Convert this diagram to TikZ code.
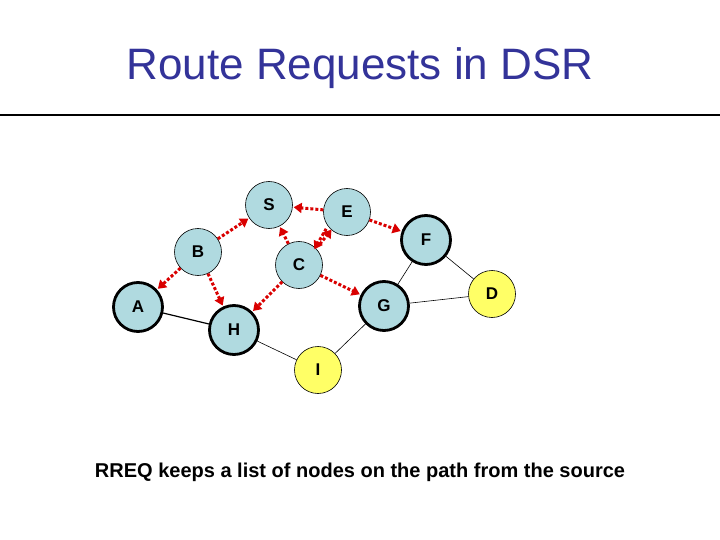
\documentclass[tikz,border=0pt]{standalone}
\usepackage{fontspec}
\setmainfont{Liberation Sans}
\usetikzlibrary{arrows.meta}
\definecolor{nodeblue}{RGB}{176,218,224}
\definecolor{nodeyel}{RGB}{255,255,102}
\definecolor{titleblue}{RGB}{51,51,153}
\begin{document}
\begin{tikzpicture}[x=1pt,y=-1pt,
  nd/.style={circle,draw=black,line width=0.6pt,fill=nodeblue,minimum size=47pt,inner sep=0pt,font=\fontsize{17}{17}\selectfont\bfseries},
  thk/.style={line width=2.8pt,minimum size=49pt},
  yel/.style={fill=nodeyel},
  req/.style={draw=red!85!black,line width=3pt,dash pattern=on 3pt off 2pt,-{Triangle[length=8pt,width=10pt]},shorten >=1pt},
  ln/.style={draw=black,line width=0.6pt}]
\useasboundingbox (0,0) rectangle (720,540);
\node[font=\fontsize{44}{44}\selectfont,text=titleblue] (title) at (360,68) {Route Requests in DSR};
\draw[line width=2.5pt] (0,115) -- (720,115);
\node[nd] (S) at (269,205) {S};
\node[nd] (E) at (347,212) {E};
\node[nd] (B) at (198,252) {B};
\node[nd] (C) at (299,265) {C};
\node[nd,thk] (F) at (426,240) {F};
\node[nd,thk] (A) at (138,307) {A};
\node[nd,thk] (H) at (234,330) {H};
\node[nd,thk] (G) at (384,306) {G};
\node[nd,yel] (D) at (492,294) {D};
\node[nd,yel] (I) at (318,370) {I};
\draw[ln,line width=1.2pt] (A) -- (H);
\draw[ln] (H) -- (I);
\draw[ln] (I) -- (G);
\draw[ln] (G) -- (F);
\draw[ln] (G) -- (D);
\draw[ln] (F) -- (D);
\draw[req] (E) -- (S);
\draw[req] (B) -- (S);
\draw[req] (C) -- (S);
\draw[req] ([xshift=-4pt]E.south west) -- ([xshift=-2pt,yshift=-2pt]C.north east);
\draw[req] ([xshift=4pt,yshift=4pt]C.north east) -- ([xshift=2pt]E.south west);
\draw[req] (E) -- (F);
\draw[req] (B) -- (A);
\draw[req] (B) -- (H);
\draw[req] (C) -- (H);
\draw[req] (C) -- (G);
\node[font=\fontsize{20}{20}\selectfont\bfseries] (cap) at (360,472) {RREQ keeps a list of nodes on the path from the source};
\end{tikzpicture}
\end{document}
